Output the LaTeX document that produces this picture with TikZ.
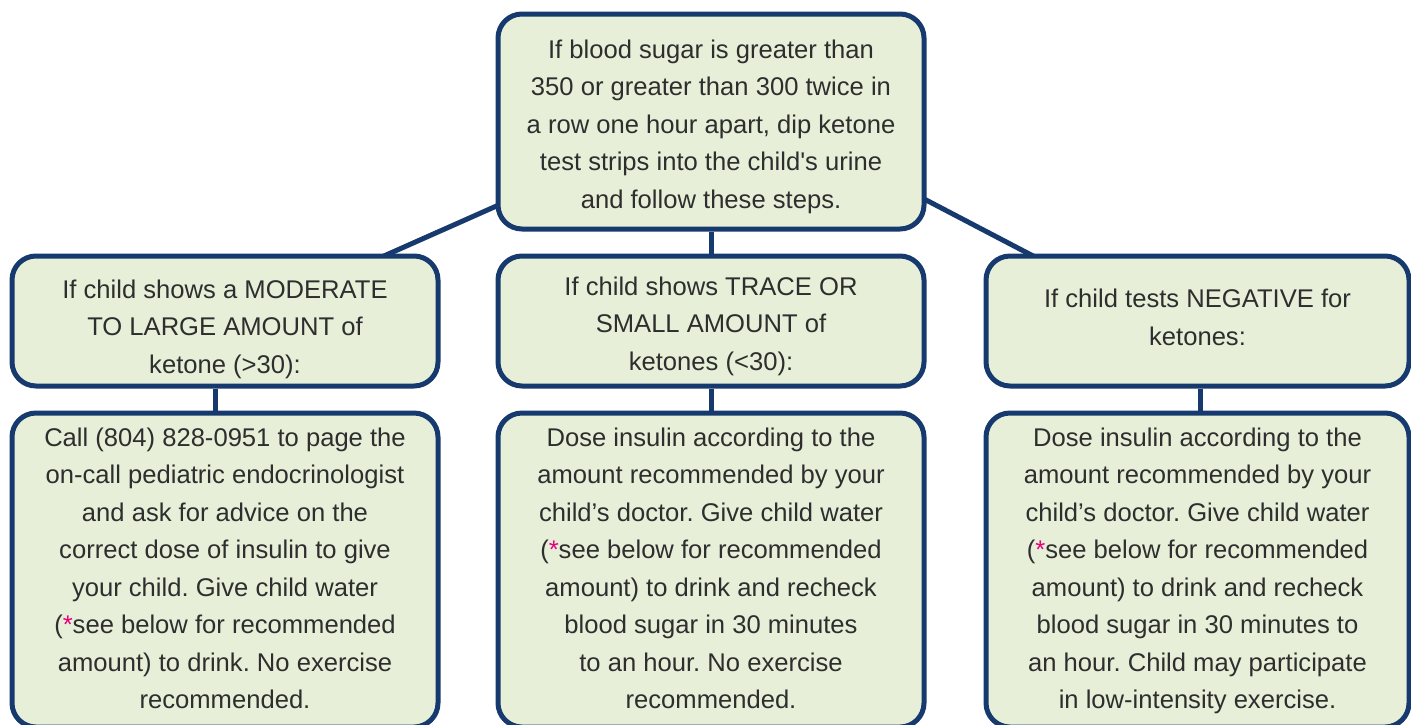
\documentclass[tikz,border=0pt]{standalone}
\usepackage{fontspec}
\setmainfont{Liberation Sans}
\usetikzlibrary{calc,backgrounds}
\definecolor{bord}{HTML}{173A6E}
\definecolor{boxfill}{HTML}{E7EFD8}
\definecolor{txt}{HTML}{2E2E2E}
\definecolor{starcol}{HTML}{E6007E}
\newcommand{\redstar}{{\color{starcol}*}}
\newcommand{\boxlines}[2]{\raisebox{#1}[\height][\depth]{\begin{tabular}{@{}c@{}}#2\end{tabular}}}
\frenchspacing
\begin{document}
\begin{tikzpicture}[x=0.5pt,y=-0.5pt,
  box/.style={draw=bord, line width=2.5pt, fill=boxfill, rounded corners=12pt,
    text=txt, font=\fontsize{12.8}{18.75}\selectfont, inner sep=0pt},
  link/.style={draw=bord, line width=2.5pt}]
\useasboundingbox (0,0) rectangle (1411,724);
\clip (0,0) rectangle (1411,724);

\node[box, minimum width=213pt, minimum height=107.5pt] (top) at (711,121.5)
  {\boxlines{-2pt}{If blood sugar is greater than\\350 or greater than 300 twice in\\a row one hour apart, dip ketone\\test strips into the child\textquotesingle s urine\\and follow these steps.}};

\node[box, minimum width=213pt, minimum height=65pt] (midl) at (225,321)
  {\boxlines{-3.5pt}{If child shows a MODERATE\\TO LARGE AMOUNT of\\ketone (>30):}};
\node[box, minimum width=213pt, minimum height=65pt] (midc) at (711,321)
  {\boxlines{-2pt}{If child shows TRACE OR\\SMALL AMOUNT of\\ketones (<30):}};
\node[box, minimum width=211.5pt, minimum height=65pt] (midr) at (1197.5,321)
  {\boxlines{1pt}{If child tests NEGATIVE for\\ketones:}};

\node[box, minimum width=213pt, minimum height=157pt] (botl) at (225,570)
  {\boxlines{0pt}{Call (804) 828-0951 to page the\\on-call pediatric endocrinologist\\and ask for advice on the\\correct dose of insulin to give\\your child. Give child water\\(\redstar see below for recommended\\amount) to drink. No exercise\\recommended.}};
\node[box, minimum width=213pt, minimum height=157pt] (botc) at (711,570)
  {\boxlines{0pt}{Dose insulin according to the\\amount recommended by your\\child’s doctor. Give child water\\(\redstar see below for recommended\\amount) to drink and recheck\\blood sugar in 30 minutes\\to an hour. No exercise\\recommended.}};
\node[box, minimum width=211.5pt, minimum height=157pt] (botr) at (1197.5,570)
  {\boxlines{0pt}{Dose insulin according to the\\amount recommended by your\\child’s doctor. Give child water\\(\redstar see below for recommended\\amount) to drink and recheck\\blood sugar in 30 minutes to\\an hour. Child may participate\\in low-intensity exercise.}};

\begin{pgfonlayer}{background}
\draw[link] ($(top.west)+(10,80.5)$) -- ($(midl.north)+(142,10)$);
\draw[link] ($(top.east)+(-10,73.5)$) -- ($(midr.north)+(-150,10)$);
\draw[link] (top.south) -- (midc.north);
\draw[link] (midl.south -| 215,0) -- (botl.north -| 215,0);
\draw[link] (midc.south) -- (botc.north);
\draw[link] (midr.south -| 1200,0) -- (botr.north -| 1200,0);
\end{pgfonlayer}
\end{tikzpicture}
\end{document}
